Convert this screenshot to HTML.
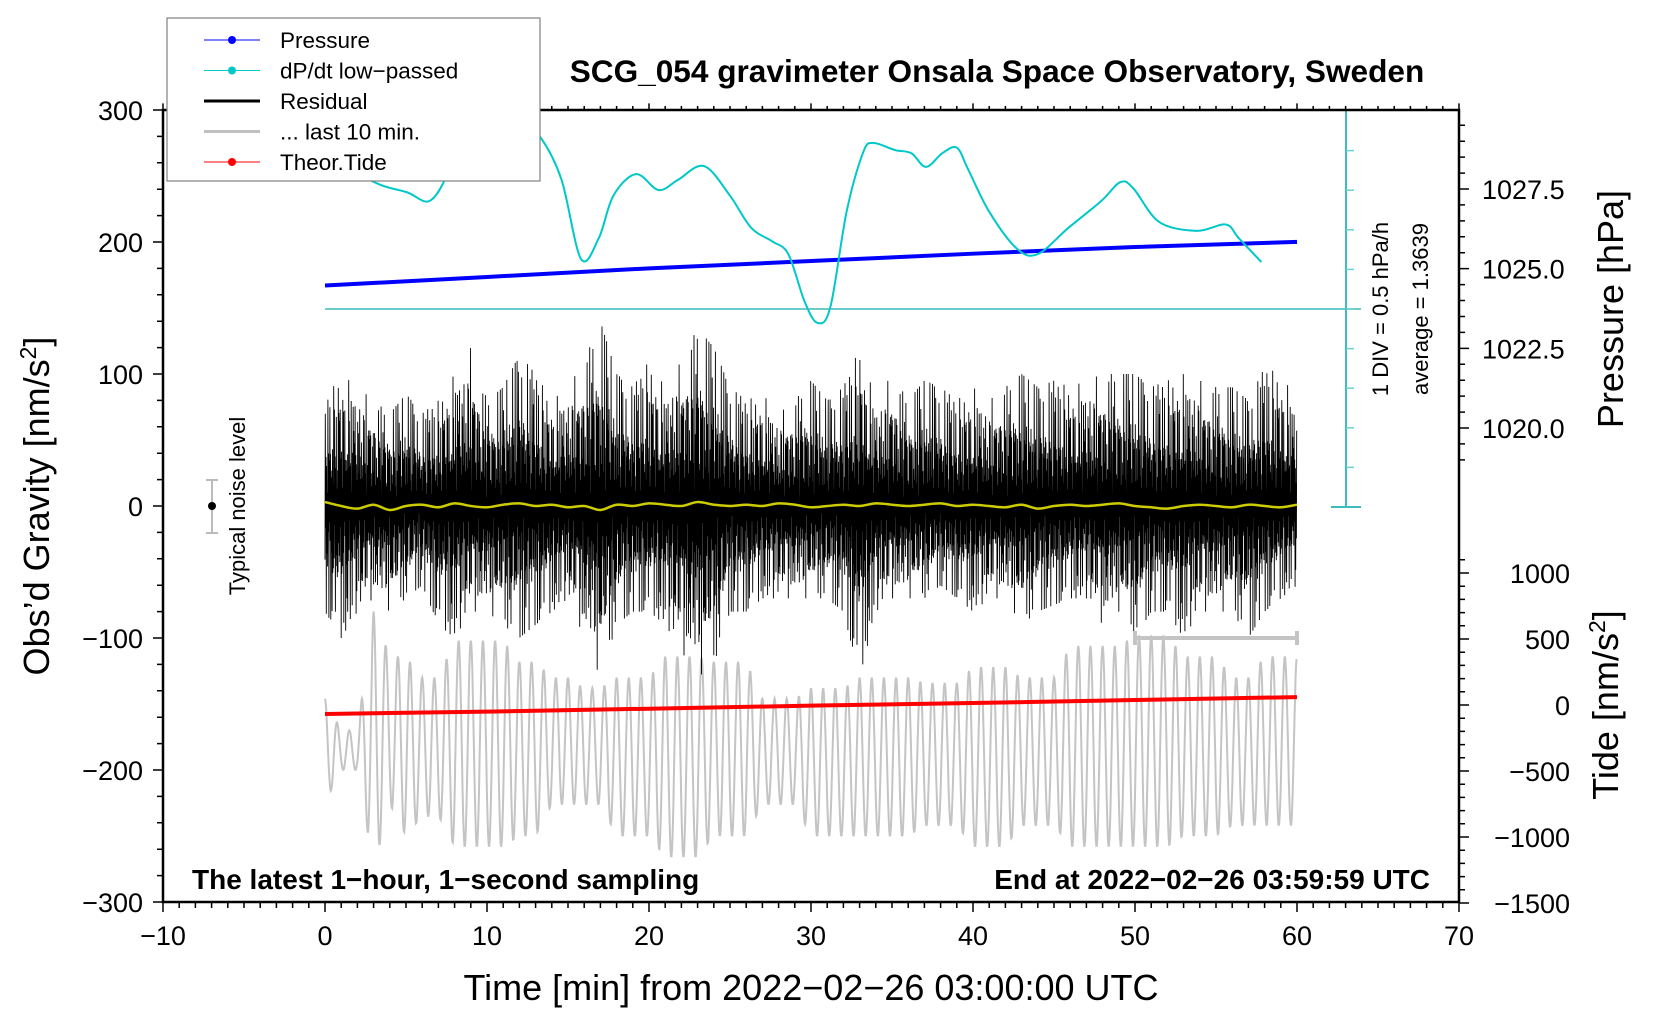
<!DOCTYPE html>
<html><head><meta charset="utf-8"><style>
html,body{margin:0;padding:0;background:#fff;}
svg{display:block;font-family:"Liberation Sans",sans-serif;}
</style></head><body>
<svg id="chart" width="1660" height="1020" viewBox="0 0 1660 1020" xmlns="http://www.w3.org/2000/svg">
<g id="marks"></g>
<g id="axes"></g>
</svg>
<script>
const minutes=[0,1,2,3,4,5,6,7,8,9,10,11,12,13,14,15,16,17,18,19,20,21,22,23,24,25,26,27,28,29,30,31,32,33,34,35,36,37,38,39,40,41,42,43,44,45,46,47,48,49,50,51,52,53,54,55,56,57,58,59,60];
const residualUpper=[80,100,90,80,70,85,70,80,100,120,80,90,115,100,80,90,110,140,100,90,110,90,110,135,120,90,80,85,70,80,95,80,90,120,80,100,80,95,90,80,90,80,90,100,90,95,90,95,100,100,100,90,95,100,95,90,90,80,105,100,80];
const residualLower=[-80,-100,-80,-70,-80,-70,-60,-90,-100,-80,-80,-90,-100,-90,-80,-70,-100,-130,-90,-80,-80,-90,-110,-130,-120,-80,-80,-70,-70,-70,-70,-70,-80,-130,-80,-70,-70,-70,-60,-70,-80,-70,-70,-90,-80,-75,-70,-70,-90,-80,-100,-80,-80,-100,-80,-80,-80,-100,-80,-70,-60];
const smoothResidual=[3,0,-2,1,-3,0,1,-1,2,0,-1,1,2,0,1,-1,0,-3,1,0,2,1,0,3,1,0,1,0,2,1,-1,0,1,0,2,1,0,1,2,0,1,0,-1,1,-2,0,1,0,1,2,0,-1,-2,0,1,0,-1,1,0,-1,1];
const pressureTimes=[0,10,20,30,40,50,60];
const pressureValues=[1024.47,1024.74,1025.01,1025.24,1025.47,1025.68,1025.84];
const dpdtTimes=[1.5,3.5,5.1,6.4,7.4,8,9.5,11,12.3,13.3,14.6,15.8,16.9,17.8,19.2,20.6,21.8,23.4,25,26.3,27.6,28.6,29.6,30.4,31.2,32.2,33.2,33.8,35.2,36.2,37.1,38.1,39,39.7,41,42.7,44,45.9,47.9,49.1,49.9,51.5,53.8,55.6,56.4,57.8];
const dpdtValues=[3.1,2.91,2.82,2.71,2.98,3.38,3.7,3.75,3.64,3.51,2.98,1.99,2.25,2.78,3.05,2.85,2.98,3.15,2.78,2.38,2.21,2.05,1.46,1.19,1.39,2.58,3.31,3.44,3.35,3.31,3.14,3.31,3.38,3.11,2.58,2.12,2.05,2.38,2.71,2.95,2.87,2.45,2.34,2.42,2.25,1.95];
const dpdtAverage=1.3639;
const tideTimes=[0,10,20,30,40,50,60];
const tideValues=[-68,-50,-28,-5,15,38,60];
const grayUpper=[-146,-170,-170,-80,-114,-114,-130,-130,-102,-102,-102,-102,-118,-118,-130,-130,-138,-138,-130,-130,-130,-114,-114,-114,-118,-118,-118,-146,-146,-146,-138,-138,-138,-130,-130,-130,-130,-134,-134,-134,-122,-122,-122,-130,-130,-130,-106,-106,-106,-106,-98,-98,-98,-114,-114,-114,-130,-130,-114,-114,-114];
const grayLower=[-225,-200,-200,-275,-226,-250,-235,-235,-258,-258,-258,-258,-250,-250,-226,-226,-226,-226,-250,-250,-250,-266,-266,-266,-250,-250,-250,-226,-226,-226,-250,-250,-250,-250,-250,-250,-250,-242,-242,-242,-258,-258,-258,-242,-242,-242,-258,-258,-258,-258,-258,-258,-258,-250,-250,-250,-242,-242,-242,-242,-242];
const xTicks=[-10,0,10,20,30,40,50,60,70];
const yTicks=[-300,-200,-100,0,100,200,300];
const pTicks=[1027.5,1025.0,1022.5,1020.0];
const tTicks=[1000,500,0,-500,-1000,-1500];

const X0=163,X1=1459,Y0=110,Y1=902;
const xs=t=>X0+(t+10)/80*(X1-X0);
const ys=g=>Y1-(g+300)/600*(Y1-Y0);
const yp=p=>189+(1027.5-p)/7.5*(428-189);
const yt=v=>903-(v+1500)/2500*(903-573);
const yd=v=>309-(v-dpdtAverage)*80;
const NS="http://www.w3.org/2000/svg";
const marks=document.getElementById('marks'),axes=document.getElementById('axes');
function mk(tag,attrs,parent){const e=document.createElementNS(NS,tag);for(const k in attrs)e.setAttribute(k,attrs[k]);parent.appendChild(e);return e;}
function interp(ts,vs,t){if(t<=ts[0])return vs[0];for(let i=1;i<ts.length;i++){if(t<=ts[i]){const f=(t-ts[i-1])/(ts[i]-ts[i-1]);return vs[i-1]+f*(vs[i]-vs[i-1]);}}return vs[vs.length-1];}
function smoothPath(pts){let d=`M${pts[0][0]},${pts[0][1]}`;for(let i=0;i<pts.length-1;i++){const p0=pts[Math.max(0,i-1)],p1=pts[i],p2=pts[i+1],p3=pts[Math.min(pts.length-1,i+2)];const c1=[p1[0]+(p2[0]-p0[0])/6,p1[1]+(p2[1]-p0[1])/6],c2=[p2[0]-(p3[0]-p1[0])/6,p2[1]-(p3[1]-p1[1])/6];d+=`C${c1[0].toFixed(1)},${c1[1].toFixed(1)} ${c2[0].toFixed(1)},${c2[1].toFixed(1)} ${p2[0].toFixed(1)},${p2[1].toFixed(1)}`;}return d;}

// gray oscillation
let gp=[];
for(let t=0;t<=60;t+=0.03){const ph=Math.cos(2*Math.PI*t/0.75);const u=interp(minutes,grayUpper,t),l=interp(minutes,grayLower,t);gp.push(xs(t).toFixed(1)+','+ys((u+l)/2+ph*(u-l)/2).toFixed(1));}
let e=mk('polyline',{points:gp.join(' '),fill:'none',stroke:'#c4c4c4','stroke-width':2},marks);



// residual
const pat1=[.35,.6,.2,.45,1,.3,.55,.15,.4,.7,.25,.5,.9,.35,.1,.6,.3,.45,.8,.2,.5,.38,.65];
const pat2=[1,.7,.85,.55,.95,.65,.8];
let rp=[];let k=0;
for(let t=0;t<=60;t+=0.02){const u=interp(minutes,residualUpper,t),l=interp(minutes,residualLower,t);const a=Math.min(1,pat1[k%23]*pat2[(k>>1)%7]*1.45);rp.push(xs(t).toFixed(1)+','+ys(k%2?u*a:l*a).toFixed(1));k++;}
e=mk('polyline',{points:rp.join(' '),fill:'none',stroke:'#000','stroke-width':0.9},marks);



e=mk('path',{d:smoothPath(minutes.map((t,i)=>[xs(t),ys(smoothResidual[i])])),fill:'none',stroke:'#cccc00','stroke-width':2.5},marks);



e=mk('polyline',{points:tideTimes.map((t,i)=>xs(t)+','+yt(tideValues[i])).join(' '),fill:'none',stroke:'#ff0000','stroke-width':4},marks);



e=mk('polyline',{points:pressureTimes.map((t,i)=>xs(t)+','+yp(pressureValues[i])).join(' '),fill:'none',stroke:'#0000ff','stroke-width':4},marks);



e=mk('path',{d:smoothPath(dpdtTimes.map((t,i)=>[xs(t),yd(dpdtValues[i])])),fill:'none',stroke:'#00c8c8','stroke-width':2,'stroke-linejoin':'round'},marks);



// cyan scale
mk('line',{x1:xs(0),x2:1361,y1:309,y2:309,stroke:'#3cbcbc','stroke-width':1.5},axes);
mk('line',{x1:1346,x2:1346,y1:Y0,y2:507,stroke:'#3cbcbc','stroke-width':2},axes);
mk('line',{x1:1331,x2:1361,y1:507,y2:507,stroke:'#3cbcbc','stroke-width':2},axes);
for(let i=1;i<10;i++)mk('line',{x1:1346,x2:1354,y1:507-i*39.6,y2:507-i*39.6,stroke:'#6cd0d0','stroke-width':1.5},axes);

// gray last-10 bar
mk('path',{d:`M${xs(50)},${ys(-100)}H${xs(60)}M${xs(50)},${ys(-100)-7}v14M${xs(60)},${ys(-100)-7}v14`,stroke:'#c4c4c4','stroke-width':4,fill:'none'},axes);
// noise bar
mk('path',{d:'M212,480V533M206,480h12M206,533h12',stroke:'#bbb','stroke-width':2,fill:'none'},axes);
mk('circle',{cx:212,cy:506,r:4,fill:'#000'},axes);

// frame
e=mk('rect',{x:X0,y:Y0,width:X1-X0,height:Y1-Y0,fill:'none',stroke:'#000','stroke-width':2.5},axes);


let tk='';
for(let m=-10;m<=70;m++){const x=xs(m);const L=m%10===0?10:6;tk+=`M${x},${Y1}v${L}M${x},${Y0}v${-L/1.5}`;}
for(let g=-300;g<=300;g+=20){const y=ys(g);tk+=`M${X0},${y}h${g%100===0?-10:-6}`;}
for(let p=1029.5;p>=1018.5;p-=0.5){const y=yp(p);if(y<Y0||y>470)continue;tk+=`M${X1},${y}h${(p*2)%5===0?10:6}`;}
for(let v=-1500;v<=1100;v+=100){const y=yt(v);tk+=`M${X1},${y}h${v%500===0?10:6}`;}
mk('path',{d:tk,stroke:'#000','stroke-width':1.5,fill:'none'},axes);

function txt(s,a,name){const t=mk('text',a,axes);t.textContent=s;return t;}
xTicks.forEach(v=>txt(String(v).replace('-','\u2212'),{x:xs(v),y:945,'font-size':27,'text-anchor':'middle'},'x-tick-label'));
yTicks.forEach(v=>txt(String(v).replace('-','\u2212'),{x:143,y:ys(v)+10,'font-size':27,'text-anchor':'end'},'y-tick-label'));
pTicks.forEach(v=>txt(v.toFixed(1),{x:1482,y:yp(v)+10,'font-size':27},'pressure-tick-label'));
tTicks.forEach(v=>txt(String(v).replace('-','\u2212'),{x:1570,y:yt(v)+10,'font-size':27,'text-anchor':'end'},'tide-tick-label'));

txt('SCG_054 gravimeter Onsala Space Observatory, Sweden',{x:997,y:82,'font-size':31.6,'font-weight':'bold','text-anchor':'middle'},'chart-title');
txt('Time [min] from 2022\u221202\u221226 03:00:00 UTC',{x:811,y:1000,'font-size':36,'text-anchor':'middle'},'x-axis-title');
let t=txt('',{transform:'translate(49,506) rotate(-90)','font-size':36,'text-anchor':'middle'},'y-axis-title');
t.innerHTML='Obs\u2019d Gravity [nm/s<tspan dy="-13" font-size="23">2</tspan><tspan dy="13">]</tspan>';
txt('Pressure [hPa]',{transform:'translate(1623,309) rotate(-90)','font-size':36,'text-anchor':'middle'},'pressure-axis-title');
t=txt('',{transform:'translate(1618,705) rotate(-90)','font-size':36,'text-anchor':'middle'},'tide-axis-title');
t.innerHTML='Tide [nm/s<tspan dy="-13" font-size="23">2</tspan><tspan dy="13">]</tspan>';
txt('1 DIV = 0.5 hPa/h',{transform:'translate(1388,309) rotate(-90)','font-size':22,'text-anchor':'middle'},'scale-label');
txt('average = 1.3639',{transform:'translate(1428,309) rotate(-90)','font-size':22,'text-anchor':'middle'},'average-label');
txt('Typical noise level',{transform:'translate(245,506) rotate(-90)','font-size':22,'text-anchor':'middle'},'noise-label');
txt('The latest 1\u2212hour, 1\u2212second sampling',{x:192,y:889,'font-size':28,'font-weight':'bold'},'sampling-note');
txt('End at 2022\u221202\u221226 03:59:59 UTC',{x:1430,y:889,'font-size':28,'font-weight':'bold','text-anchor':'end'},'end-time-note');

// legend
const lg=mk('g',{},axes);


mk('rect',{x:167,y:18,width:373,height:163,fill:'#fff',stroke:'#808080','stroke-width':1.2},lg);
const legNames=['Pressure','dP/dt low\u2212passed','Residual','... last 10 min.','Theor.Tide'];
const legCols=['#0000ff','#00c8c8','#000','#c0c0c0','#ff0000'];
legNames.forEach((n,i)=>{const y=40+i*30.5;const g=mk('g',{},lg);


const thick=(i===2||i===3);
mk('line',{x1:204,x2:260,y1:y,y2:y,stroke:legCols[i],'stroke-width':thick?3:1},g);
if(!thick)mk('circle',{cx:232,cy:y,r:4,fill:legCols[i]},g);
const tt=mk('text',{x:280,y:y+8,'font-size':22.5},g);tt.textContent=n;});
</script>
</body></html>
